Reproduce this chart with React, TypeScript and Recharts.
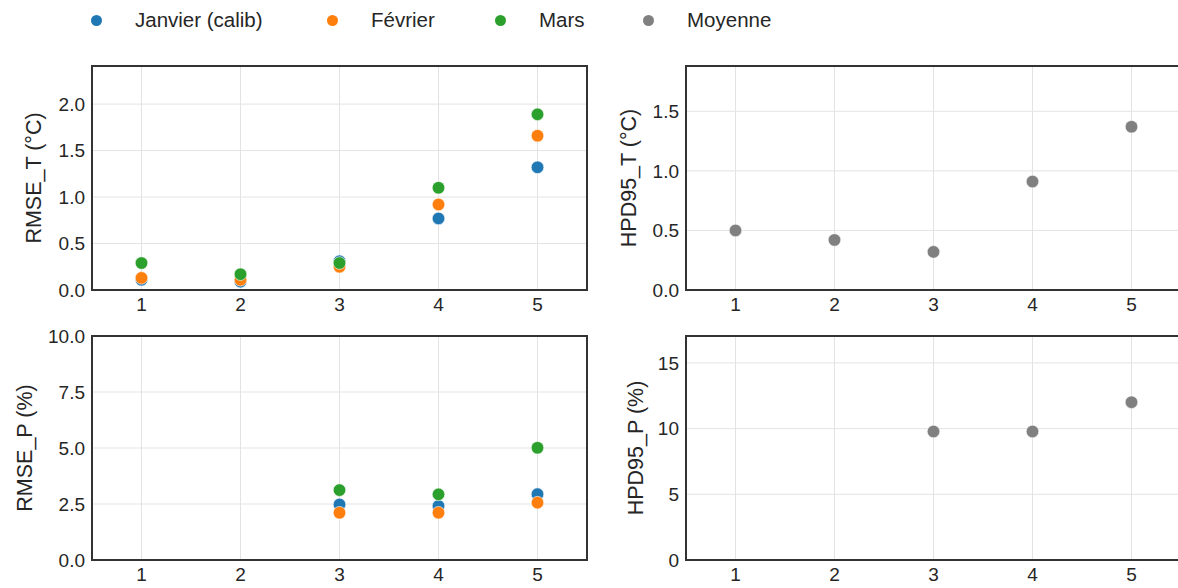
import {
  ScatterChart,
  Scatter,
  XAxis,
  YAxis,
  CartesianGrid,
  ReferenceArea,
} from 'recharts';

// runs on the x axis
const runs = [1, 2, 3, 4, 5];

// RMSE on temperature (°C)
const rmseTJan = [0.11, 0.09, 0.31, 0.77, 1.32];
const rmseTFeb = [0.13, 0.11, 0.25, 0.92, 1.66];
const rmseTMar = [0.29, 0.17, 0.29, 1.1, 1.89];
// HPD95 width on temperature (°C)
const hpdT = [0.5, 0.42, 0.32, 0.91, 1.37];

// RMSE on precipitation (%), no value for runs 1 and 2
const rmsePJan = [null, null, 2.48, 2.41, 2.94];
const rmsePFeb = [null, null, 2.11, 2.11, 2.56];
const rmsePMar = [null, null, 3.12, 2.93, 5.01];
// HPD95 width on precipitation (%)
const hpdP = [null, null, 9.78, 9.78, 12.01];

const seriesNames = ['Janvier (calib)', 'Février', 'Mars', 'Moyenne'];

const yTicksRmseT = [0, 0.5, 1, 1.5, 2];
const yTicksHpdT = [0, 0.5, 1, 1.5];
const yTicksRmseP = [0, 2.5, 5, 7.5, 10];
const yTicksHpdP = [0, 5, 10, 15];

const COLORS = {
  jan: '#1f77b4',
  feb: '#ff7f0e',
  mar: '#2ca02c',
  mean: '#808080',
};
const legendColors = [COLORS.jan, COLORS.feb, COLORS.mar, COLORS.mean];
const legendLeft = [96, 332, 500, 648];

const FONT = '"Liberation Sans", Arial, Helvetica, sans-serif';
const TEXT = '#262626';

const toPoints = (values: Array<number | null>) =>
  runs
    .map((x, i) => ({ x, y: values[i] }))
    .filter((p) => p.y !== null && p.y !== undefined);

const dot = (color: string) => (props: any) => (
  <circle cx={props.cx} cy={props.cy} r={6.3} fill={color} stroke="#ffffff" strokeWidth={0.6} />
);

type PanelProps = {
  left: number;
  top: number;
  width: number;
  height: number;
  yWidth: number;
  xHeight: number;
  marginTop: number;
  marginRight: number;
  yDomain: [number, number];
  yTicks: number[];
  decimals: number;
  title: string;
  titleX: number;
  series: Array<{ values: Array<number | null>; color: string; name: string }>;
};

const Panel = (p: PanelProps) => {
  const plotH = p.height - p.marginTop - p.xHeight;
  const titleY = p.marginTop + plotH / 2;
  return (
    <div style={{ position: 'absolute', left: p.left, top: p.top, width: p.width, height: p.height }}>
      <ScatterChart
        width={p.width}
        height={p.height}
        margin={{ top: p.marginTop, right: p.marginRight, bottom: 0, left: 0 }}
      >
        <CartesianGrid stroke="#e3e3e3" strokeWidth={1} />
        <XAxis
          type="number"
          dataKey="x"
          domain={[0.5, 5.5]}
          ticks={runs}
          allowDataOverflow
          axisLine={false}
          tickLine={false}
          tickSize={0}
          tickMargin={8}
          height={p.xHeight}
          tick={{ fontSize: 19, fill: TEXT, fontFamily: FONT }}
        />
        <YAxis
          type="number"
          dataKey="y"
          domain={p.yDomain}
          ticks={p.yTicks}
          allowDataOverflow
          tickFormatter={(v: number) => v.toFixed(p.decimals)}
          axisLine={false}
          tickLine={false}
          tickSize={0}
          tickMargin={7}
          width={p.yWidth}
          tick={{ fontSize: 19, fill: TEXT, fontFamily: FONT }}
        />
        <ReferenceArea
          x1={0.5}
          x2={5.5}
          y1={p.yDomain[0]}
          y2={p.yDomain[1]}
          fill="none"
          stroke="#333333"
          strokeWidth={2}
          ifOverflow="visible"
        />
        {p.series.map((s) => (
          <Scatter
            key={s.name}
            name={s.name}
            data={toPoints(s.values)}
            fill={s.color}
            shape={dot(s.color)}
            isAnimationActive={false}
          />
        ))}
        <text
          x={p.titleX}
          y={titleY}
          transform={`rotate(-90, ${p.titleX}, ${titleY})`}
          textAnchor="middle"
          dominantBaseline="central"
          fontSize={21.5}
          fill={TEXT}
          fontFamily={FONT}
        >
          {p.title}
        </text>
      </ScatterChart>
    </div>
  );
};

const App = () => {
  return (
    <div
      style={{
        position: 'fixed',
        left: 0,
        top: 0,
        width: 1178,
        height: 588,
        overflow: 'hidden',
        background: '#ffffff',
        fontFamily: FONT,
      }}
    >
      {/* figure legend */}
      {seriesNames.map((name, i) => (
        <div
          key={name}
          style={{
            position: 'absolute',
            left: legendLeft[i] - 5.5,
            top: 8,
            height: 24,
            display: 'flex',
            alignItems: 'center',
            whiteSpace: 'nowrap',
          }}
        >
          <span
            style={{
              display: 'inline-block',
              width: 11,
              height: 11,
              borderRadius: '50%',
              background: legendColors[i],
            }}
          />
          <span style={{ marginLeft: 33.5, fontSize: 20.5, color: TEXT, lineHeight: '24px' }}>{name}</span>
        </div>
      ))}

      <Panel
        left={0}
        top={50}
        width={600}
        height={275}
        yWidth={92}
        xHeight={35}
        marginTop={16}
        marginRight={13}
        yDomain={[0, 2.41]}
        yTicks={yTicksRmseT}
        decimals={1}
        title="RMSE_T (°C)"
        titleX={33.8}
        series={[
          { values: rmseTJan, color: COLORS.jan, name: 'jan' },
          { values: rmseTFeb, color: COLORS.feb, name: 'feb' },
          { values: rmseTMar, color: COLORS.mar, name: 'mar' },
        ]}
      />
      <Panel
        left={600}
        top={50}
        width={600}
        height={275}
        yWidth={86}
        xHeight={35}
        marginTop={16}
        marginRight={19}
        yDomain={[0, 1.88]}
        yTicks={yTicksHpdT}
        decimals={1}
        title="HPD95_T (°C)"
        titleX={28.6}
        series={[{ values: hpdT, color: COLORS.mean, name: 'mean' }]}
      />
      <Panel
        left={0}
        top={320}
        width={600}
        height={268}
        yWidth={92}
        xHeight={28}
        marginTop={16}
        marginRight={13}
        yDomain={[0, 10]}
        yTicks={yTicksRmseP}
        decimals={1}
        title="RMSE_P (%)"
        titleX={25}
        series={[
          { values: rmsePJan, color: COLORS.jan, name: 'jan' },
          { values: rmsePFeb, color: COLORS.feb, name: 'feb' },
          { values: rmsePMar, color: COLORS.mar, name: 'mar' },
        ]}
      />
      <Panel
        left={600}
        top={320}
        width={600}
        height={268}
        yWidth={86}
        xHeight={28}
        marginTop={16}
        marginRight={19}
        yDomain={[0, 17.05]}
        yTicks={yTicksHpdP}
        decimals={0}
        title="HPD95_P (%)"
        titleX={36}
        series={[{ values: hpdP, color: COLORS.mean, name: 'mean' }]}
      />
    </div>
  );
};

export default App;
